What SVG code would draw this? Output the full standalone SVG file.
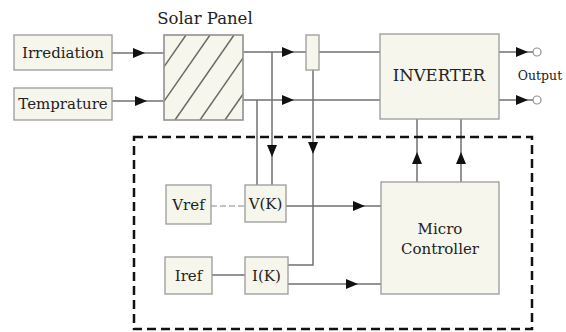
<svg xmlns="http://www.w3.org/2000/svg" width="566" height="332" viewBox="0 0 566 332">
<style>
.box{fill:#f7f6ec;stroke:#9a9a9a;stroke-width:1.3}
.ln{fill:none;stroke:#707070;stroke-width:1.5}
.hatch{stroke:#6a6a6a;stroke-width:1.5}
.t{font-family:"DejaVu Serif","Liberation Serif",serif;font-size:15px;fill:#222;text-anchor:middle}
.tl{font-family:"DejaVu Serif","Liberation Serif",serif;font-size:16.5px;fill:#222;text-anchor:middle}
.ts{font-family:"DejaVu Serif","Liberation Serif",serif;font-size:12.5px;fill:#222;text-anchor:middle}
</style>
<defs>
<marker id="arr" viewBox="0 0 12 10" refX="12" refY="5" markerWidth="12" markerHeight="10" markerUnits="userSpaceOnUse" orient="auto">
<path d="M0,0 L12,5 L0,10 Z" fill="#111"/>
</marker>
<clipPath id="pc"><rect x="164" y="35" width="79" height="85"/></clipPath>
</defs>
<rect x="0" y="0" width="566" height="332" fill="#ffffff"/>

<g id="connectors">
<path class="ln" d="M112,53 H145" marker-end="url(#arr)"/><path class="ln" d="M145,53 H164"/>
<path class="ln" d="M112,101 H147" marker-end="url(#arr)"/><path class="ln" d="M147,101 H164"/>
<path class="ln" d="M243,52 H294" marker-end="url(#arr)"/><path class="ln" d="M294,52 H306"/>
<path class="ln" d="M319,52 H380"/>
<path class="ln" d="M243,100 H294" marker-end="url(#arr)"/><path class="ln" d="M294,100 H380"/>
<path class="ln" d="M272,52 V157" marker-end="url(#arr)"/><path class="ln" d="M272,157 V185"/>
<path class="ln" d="M257,100 V185"/>
<path class="ln" d="M313,70 V154" marker-end="url(#arr)"/><path class="ln" d="M313,154 V265 H288"/>
<path class="ln" d="M286,206 H365" marker-end="url(#arr)"/><path class="ln" d="M365,206 H381"/>
<path class="ln" d="M288,284 H358" marker-end="url(#arr)"/><path class="ln" d="M358,284 H381"/>
<path d="M211,206 H245" fill="none" stroke="#b0b0b0" stroke-width="1.3" stroke-dasharray="6,3"/>
<path class="ln" d="M212,275 H245"/>
<path class="ln" d="M417,182 V152" marker-end="url(#arr)"/><path class="ln" d="M417,152 V119"/>
<path class="ln" d="M461,182 V152" marker-end="url(#arr)"/><path class="ln" d="M461,152 V119"/>
<path class="ln" d="M499,52 H528" marker-end="url(#arr)"/><path class="ln" d="M528,52 H533"/>
<path class="ln" d="M499,100 H528" marker-end="url(#arr)"/><path class="ln" d="M528,100 H533"/>
<circle cx="537" cy="52" r="4" fill="#fff" stroke="#909090" stroke-width="1.2"/>
<circle cx="537" cy="100" r="4" fill="#fff" stroke="#909090" stroke-width="1.2"/>
</g>

<rect id="controller-boundary" x="134" y="137" width="398" height="192" fill="none" stroke="#111" stroke-width="2.5" stroke-dasharray="9,5"/>

<g id="irrediation"><rect class="box" x="14" y="35" width="98" height="35"/><text class="t" x="63" y="58">Irrediation</text></g>
<g id="temprature"><rect class="box" x="14" y="88" width="98" height="32"/><text class="t" x="63" y="109">Temprature</text></g>
<g id="solar-panel">
<text class="tl" x="205" y="24">Solar Panel</text>
<rect class="box" x="164" y="35" width="79" height="85"/>
<g clip-path="url(#pc)" class="hatch">
<line x1="127" y1="120" x2="186" y2="35"/>
<line x1="151" y1="120" x2="210" y2="35"/>
<line x1="175" y1="120" x2="234" y2="35"/>
<line x1="200" y1="120" x2="259" y2="35"/>
<line x1="225" y1="120" x2="284" y2="35"/>
</g>
<rect x="164" y="35" width="79" height="85" fill="none" stroke="#9a9a9a" stroke-width="1.3"/>
</g>
<g id="sensor"><rect class="box" x="306" y="35" width="13" height="35"/></g>
<g id="inverter"><rect class="box" x="380" y="34" width="119" height="85"/><text class="tl" x="439" y="81">INVERTER</text></g>
<g id="output"><text class="ts" x="540" y="80">Output</text></g>
<g id="vref"><rect class="box" x="166" y="185" width="45" height="39"/><text class="t" x="188.5" y="210">Vref</text></g>
<g id="vk"><rect class="box" x="245" y="185" width="41" height="37"/><text class="t" x="265.5" y="209">V(K)</text></g>
<g id="iref"><rect class="box" x="165" y="257" width="47" height="37"/><text class="t" x="188.5" y="281">Iref</text></g>
<g id="ik"><rect class="box" x="245" y="257" width="43" height="37"/><text class="t" x="266.5" y="281">I(K)</text></g>
<g id="micro-controller"><rect class="box" x="381" y="182" width="118" height="112"/><text class="t" x="440" y="234">Micro</text><text class="t" x="440" y="254">Controller</text></g>
</svg>
